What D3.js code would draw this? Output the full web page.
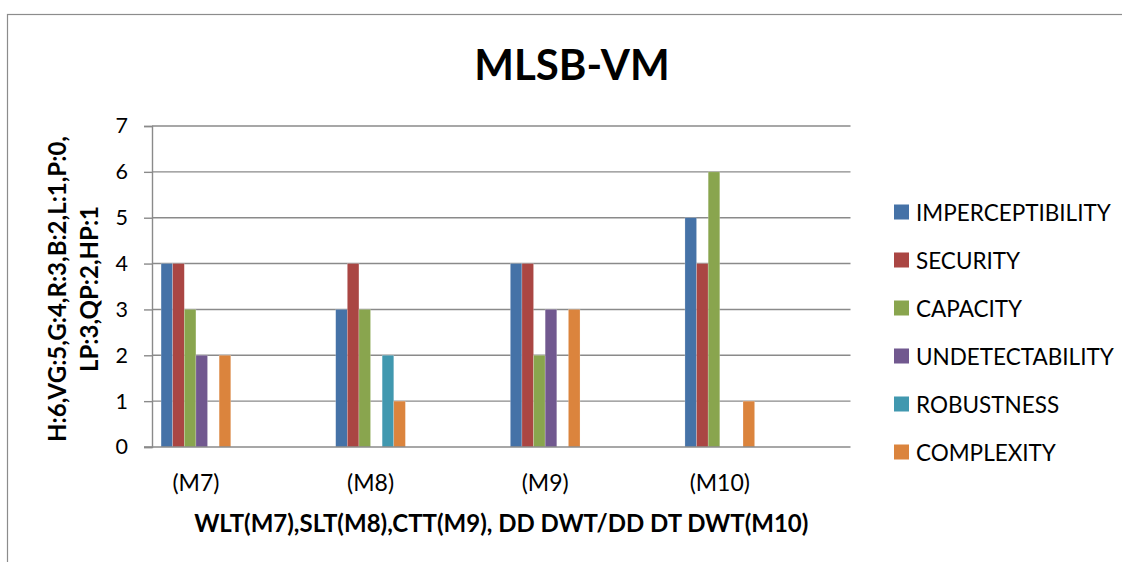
<!DOCTYPE html>
<html>
<head>
<meta charset="utf-8">
<script src="https://cdn.jsdelivr.net/npm/d3@7"></script>
<style>
  html, body { margin: 0; padding: 0; background: #fff; }
  svg { display: block; font-family: Lato, "Open Sans", sans-serif; }
</style>
</head>
<body>
<svg id="chart" width="1122" height="562"></svg>
<script>
// Methods compared along the category axis
const categories = ["(M7)", "(M8)", "(M9)", "(M10)"];

// Criteria (one bar series each)
const seriesNames = ["IMPERCEPTIBILITY", "SECURITY", "CAPACITY", "UNDETECTABILITY", "ROBUSTNESS", "COMPLEXITY"];
const seriesColors = ["#4572A7", "#AA4643", "#89A54E", "#71588F", "#4198AF", "#DB843D"];

// Scores per method, one array per criterion
const imperceptibility = [4, 3, 4, 5];
const security         = [4, 4, 4, 4];
const capacity         = [3, 3, 2, 6];
const undetectability  = [2, 0, 3, 0];
const robustness       = [0, 2, 0, 0];
const complexity       = [2, 1, 3, 1];

const yTicks = [0, 1, 2, 3, 4, 5, 6, 7];

const chartTitle = "MLSB-VM";
const xTitle = "WLT(M7),SLT(M8),CTT(M9), DD DWT/DD DT DWT(M10)";
const yTitleLines = ["H:6,VG:5,G:4,R:3,B:2,L:1,P:0,", "LP:3,QP:2,HP:1"];

const seriesValues = [imperceptibility, security, capacity, undetectability, robustness, complexity];

const svg = d3.select("#chart");

// Plot area
const plot = { left: 152, right: 850.5, top: 126, bottom: 447 };

// Outer chart frame
svg.append("rect")
  .attr("x", 7.5).attr("y", 14.5)
  .attr("width", 1200).attr("height", 700)
  .attr("fill", "none").attr("stroke", "#8c8c8c").attr("stroke-width", 1.2);

const x0 = d3.scaleBand().domain(categories).range([plot.left, plot.right]);
const groupOffset = x0.bandwidth() * 0.052;
const groupWidth = x0.bandwidth() * 0.399;
const x1 = d3.scaleBand().domain(seriesNames).range([0, groupWidth]);
const y = d3.scaleLinear().domain([0, 7]).range([plot.bottom, plot.top]);

// Horizontal gridlines
svg.append("g")
  .selectAll("line")
  .data(yTicks.filter(t => t > 0))
  .join("line")
  .attr("x1", plot.left).attr("x2", plot.right)
  .attr("y1", d => y(d)).attr("y2", d => y(d))
  .attr("stroke", "#8a8a8a").attr("stroke-width", 1.4);

// Bars
const groups = svg.append("g")
  .selectAll("g")
  .data(categories)
  .join("g")
  .attr("transform", d => `translate(${x0(d) + groupOffset},0)`);

groups.selectAll("rect")
  .data((c, ci) => seriesNames.map((s, si) => ({ s, si, v: seriesValues[si][ci] })).filter(d => d.v > 0))
  .join("rect")
  .attr("x", d => x1(d.s))
  .attr("width", x1.bandwidth())
  .attr("y", d => y(d.v))
  .attr("height", d => y(0) - y(d.v))
  .attr("fill", d => seriesColors[d.si])
  .attr("stroke", "rgba(255,255,255,0.35)")
  .attr("stroke-width", 0.6);

// Y axis with tick labels on the left
const yAxis = d3.axisLeft(y).tickValues(yTicks).tickSize(8).tickPadding(16).tickFormat(d3.format("d"));
const gy = svg.append("g")
  .attr("transform", `translate(${plot.left},0)`)
  .call(yAxis);
gy.select(".domain").attr("stroke", "#8a8a8a").attr("stroke-width", 1.4);
gy.selectAll(".tick line").attr("stroke", "#8a8a8a").attr("stroke-width", 1.4);
gy.selectAll(".tick text")
  .attr("font-family", "Lato, sans-serif")
  .attr("font-size", 21.5)
  .attr("fill", "#000");

// X axis baseline
svg.append("line")
  .attr("x1", plot.left - 8).attr("x2", plot.right)
  .attr("y1", y(0)).attr("y2", y(0))
  .attr("stroke", "#8a8a8a").attr("stroke-width", 1.4);

// Category labels, centred under each bar group
svg.append("g")
  .selectAll("text")
  .data(categories)
  .join("text")
  .attr("x", d => x0(d) + groupOffset + groupWidth / 2)
  .attr("y", 491)
  .attr("text-anchor", "middle")
  .attr("font-size", 23)
  .attr("fill", "#000")
  .text(d => d);

// Chart title
svg.append("text")
  .attr("x", 572).attr("y", 80)
  .attr("text-anchor", "middle")
  .attr("font-size", 42).attr("font-weight", "bold")
  .attr("fill", "#000")
  .text(chartTitle);

// X axis title
svg.append("text")
  .attr("x", (plot.left + plot.right) / 2).attr("y", 532)
  .attr("text-anchor", "middle")
  .attr("font-size", 24).attr("font-weight", "bold")
  .attr("fill", "#000")
  .text(xTitle);

// Y axis title, rotated, two lines
const yt = svg.append("text")
  .attr("transform", `translate(0,289) rotate(-90)`)
  .attr("text-anchor", "middle")
  .attr("font-size", 24).attr("font-weight", "bold")
  .attr("fill", "#000");
yt.selectAll("tspan")
  .data(yTitleLines)
  .join("tspan")
  .attr("x", 0)
  .attr("y", (d, i) => 66 + i * 32)
  .text(d => d);

// Legend
const legend = svg.append("g")
  .selectAll("g")
  .data(seriesNames)
  .join("g")
  .attr("transform", (d, i) => `translate(894,${212 + i * 48})`);
legend.append("rect")
  .attr("x", 0).attr("y", -7.5)
  .attr("width", 15).attr("height", 15)
  .attr("fill", (d, i) => seriesColors[i]);
legend.append("text")
  .attr("x", 22).attr("y", 8.5)
  .attr("font-size", 22.5)
  .attr("fill", "#000")
  .text(d => d);
</script>
</body>
</html>
